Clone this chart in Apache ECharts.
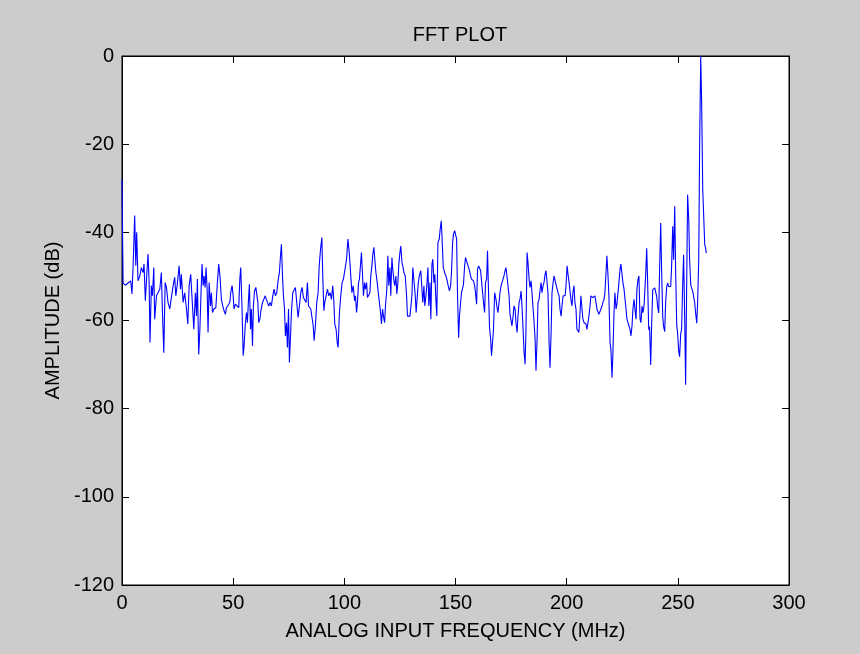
<!DOCTYPE html>
<html>
<head>
<meta charset="utf-8">
<title>FFT PLOT</title>
<script src="https://cdn.jsdelivr.net/npm/echarts@6/dist/echarts.min.js"></script>
<style>
  html, body { margin: 0; padding: 0; background: #cccccc; }
  #chart { width: 860px; height: 654px; }
</style>
</head>
<body>
<div id="chart"></div>
<script>
// Spectrum samples: frequency (MHz) and amplitude (dB)
const freqMHz = [
  0, 0.5, 1.5, 2.7, 3.9, 4.5, 5.0, 5.7, 6.2, 6.6, 7.2, 8.0, 8.7, 9.5, 9.9, 10.5, 11.1, 11.7, 12.2, 12.6,
  13.2, 13.7, 14.3, 14.7, 15.5, 16.2, 17.0, 17.7, 18.2, 18.8, 19.4, 20.0, 20.7, 21.5, 22.2, 23.0, 23.7, 24.2, 24.8, 25.7,
  26.3, 26.7, 27.5, 28.2, 29.0, 29.6, 30.2, 30.9, 31.5, 32.3,
  33.0, 33.5, 33.9, 34.5, 35.0, 35.6, 36.0, 36.5, 36.9, 37.4, 37.8, 38.3, 38.7, 39.2, 39.8, 40.2, 40.7, 41.3, 42.2, 42.9,
  43.5, 44.1, 44.7, 45.3, 45.9, 46.5, 47.0, 47.7, 48.5, 48.9, 49.5, 50.0, 50.4, 51.0, 51.8, 52.5, 53.0, 53.4, 54.0, 54.5,
  54.9, 55.5, 56.0, 56.4, 56.9, 57.3, 57.8, 58.2, 58.7, 59.1, 59.6, 60.2, 60.6, 61.1, 61.5, 62.0, 62.6, 63.2, 63.8, 64.4,
  65.0, 65.4, 66.0,
  66.6, 67.2, 67.8, 68.4, 69.0, 69.6, 70.2, 70.8, 71.3, 71.7, 72.2, 72.6, 73.1, 73.5, 74.0, 74.4, 74.9, 75.3, 75.8, 76.2,
  76.8, 77.4, 78.0, 78.6, 79.2, 79.8, 80.4, 81.0, 81.6, 82.2, 82.8, 83.4, 83.9, 84.3, 84.9, 85.5, 86.0, 86.4, 87.0, 87.6,
  88.2, 88.7, 89.3, 89.9, 90.3, 90.8, 91.2, 91.8, 92.4, 93.0, 93.6, 94.2, 94.8, 95.3, 95.7, 96.3, 96.8, 97.2, 97.8, 98.4,
  99.0, 99.6, 100.2,
  101.0, 101.6, 102.2, 102.8, 103.4, 104.0, 104.6, 105.0, 105.5, 105.9, 106.4, 106.8, 107.3, 107.7, 108.2, 108.6, 109.1, 109.5, 110.0, 110.4,
  110.9, 111.5, 111.9, 112.4, 112.8, 113.3, 113.7, 114.2, 114.6, 115.1, 115.7, 116.3, 116.7, 117.2, 117.6, 118.1, 118.5, 119.1, 119.6, 120.0,
  120.5, 120.9, 121.4, 121.8, 122.3, 122.7, 123.2, 123.6, 124.1, 124.5, 125.0, 125.4, 125.9, 126.3, 126.8, 127.4, 128.0, 128.4, 129.0, 129.5,
  129.9, 130.4, 130.8, 131.3, 131.9, 132.3, 132.8, 133.2, 133.7,
  134.4, 134.9, 135.3, 135.8, 136.2, 136.7, 137.1, 137.6, 138.0, 138.5, 138.9, 139.4, 139.8, 140.3, 140.7, 141.2, 141.6, 142.1, 142.7, 143.1,
  143.6, 144.0, 144.5, 145.1, 145.7, 146.1, 146.7, 147.3, 147.8, 148.2, 148.7, 149.1, 149.6, 150.0, 150.5, 150.9, 151.4, 151.8, 152.3, 152.7,
  153.2, 153.6, 154.1, 154.5, 155.0, 155.4, 155.9, 156.3, 156.8, 157.2, 157.7, 158.1, 158.6, 159.0, 159.5, 159.9, 160.4, 160.8, 161.3, 161.7,
  162.2, 162.6, 163.1, 163.5, 164.0, 164.4, 164.9, 165.3, 165.8, 166.2, 166.7, 167.1, 167.6,
  168.2, 168.7, 169.1, 169.6, 170.0, 170.5, 170.9, 171.4, 171.8, 172.3, 172.7, 173.2, 173.6, 174.1, 174.5, 175.0, 175.4, 175.9, 176.3, 176.8,
  177.2, 177.7, 178.1, 178.6, 179.0, 179.5, 179.9, 180.4, 180.8, 181.3, 181.7, 182.2, 182.6, 183.1, 183.5, 184.0, 184.4, 184.9, 185.3, 185.8,
  186.2, 186.7, 187.1, 187.6, 188.0, 188.5, 188.9, 189.4, 189.8, 190.3, 190.7, 191.2, 191.6, 192.1, 192.5, 193.0, 193.4, 193.9, 194.3, 194.8,
  195.2, 195.7, 196.1, 196.6, 197.0, 197.5, 197.9, 198.4, 198.8, 199.3, 199.7, 200.2, 200.6, 201.1,
  201.9, 202.4, 202.8, 203.3, 203.7, 204.2, 204.6, 205.1, 205.5, 206.0, 206.4, 206.9, 207.3, 207.8, 208.2, 208.7, 209.1, 209.6, 210.0, 210.5,
  210.9, 211.4, 211.8, 212.3, 212.7, 213.2, 213.6, 214.1, 214.5, 215.0, 215.4, 215.9, 216.3, 216.8, 217.2, 217.7, 218.1, 218.6, 219.0, 219.5,
  219.9, 220.4, 220.8, 221.3, 221.7, 222.2, 222.6, 223.1, 223.5, 224.0, 224.4, 224.9, 225.3, 225.8, 226.2, 226.7, 227.1, 227.6, 228.0, 228.5,
  228.9, 229.4, 229.8, 230.3, 230.7, 231.2, 231.6, 232.1, 232.5, 233.0, 233.4, 233.9, 234.3, 234.8,
  235.1, 235.5, 236.0, 236.4, 236.9, 237.3, 237.8, 238.2, 238.7, 239.1, 239.6, 240.0, 240.5, 240.9, 241.4, 241.8, 242.3, 242.7, 243.2, 243.6,
  244.1, 244.5, 245.0, 245.4, 245.9, 246.3, 246.8, 247.2, 247.7, 248.1, 248.6, 249.0, 249.5, 249.9, 250.4, 250.8, 251.3, 251.7, 252.2, 252.6,
  253.1, 253.5, 254.0, 254.4, 254.9, 255.3, 255.8, 256.2, 256.7, 257.1, 257.6, 258.0, 258.5, 258.9, 259.4, 259.8, 260.3, 260.7, 261.2, 261.6,
  262.1, 262.5, 262.8
];

const amplitudeDb = [
  -28, -51.5, -52, -51.5, -51, -54, -47.6, -36.2, -47.6, -40.0, -51.0, -49.9, -48.0, -49.1, -47.2, -55.5, -49.9, -44.9, -51.4, -65.0,
  -52.1, -54.4, -48.0, -59.7, -54.4, -54.0, -52.9, -49.1, -58.2, -67.3, -51.4, -52.5, -55.9, -57.4, -54.8, -52.1, -50.2, -54.4, -52.1, -47.6,
  -52.9, -49.5, -55.9, -53.7, -57.4, -60.8, -52.1, -49.5, -49.1, -62.0,
  -53.7, -59.0, -50.6, -67.7, -62.4, -52.9, -47.2, -52.1, -49.9, -52.5, -48.0, -52.9, -62.7, -51.4, -56.7, -53.7, -58.2, -57.4, -57.1, -51.4,
  -47.2, -50.2, -55.2, -56.7, -57.8, -58.6, -57.1, -56.7, -55.9, -53.7, -52.1, -54.4, -57.4, -56.3, -56.7, -57.1, -50.6, -48.0, -57.4, -68.0,
  -65.8, -60.5, -58.2, -60.5, -55.2, -51.8, -62.0, -57.4, -65.8, -56.7, -53.3, -52.5, -52.1, -55.9, -60.5, -59.7, -57.4, -55.9, -55.2, -54.4,
  -54.0, -55.9, -56.7,
  -55.9, -56.7, -54.4, -52.9, -54.4, -53.7, -51.0, -49.1, -45.3, -42.7, -49.9, -54.4, -57.4, -63.5, -60.5, -66.1, -57.4, -69.5, -63.5, -58.2,
  -53.7, -53.3, -52.5, -52.1, -59.3, -56.7, -53.7, -52.5, -54.8, -54.4, -55.9, -51.4, -56.7, -57.1, -57.4, -57.8, -61.2, -64.6, -61.2, -55.9,
  -53.7, -47.6, -43.8, -41.2, -49.9, -57.8, -55.9, -54.4, -52.9, -54.4, -53.7, -55.2, -52.1, -55.9, -60.8, -62.0, -65.0, -66.1, -58.2, -54.4,
  -51.4, -50.6, -51.0,
  -46.1, -41.5, -44.6, -49.1, -53.7, -52.1, -55.5, -54.4, -58.2, -55.9, -51.4, -50.6, -47.2, -44.6, -49.9, -54.4, -51.4, -52.9, -51.4, -54.8,
  -54.4, -53.7, -49.9, -47.6, -45.0, -43.4, -46.1, -49.1, -50.6, -52.9, -52.9, -58.2, -60.8, -57.4, -59.0, -60.5, -56.7, -52.9, -45.3, -52.1,
  -48.0, -54.4, -45.7, -48.4, -51.0, -52.1, -49.9, -54.0, -51.4, -47.2, -44.6, -43.1, -46.8, -47.6, -49.1, -49.9, -54.4, -59.0, -59.0, -59.0,
  -59.0, -54.4, -48.0, -47.6, -54.4, -58.2, -58.2, -51.8, -49.9,
  -48.7, -52.9, -55.9, -52.1, -56.7, -54.4, -52.1, -48.0, -56.7, -51.4, -59.7, -47.2, -46.1, -51.4, -49.5, -55.5, -59.0, -42.3, -41.5, -39.3,
  -37.4, -41.9, -48.0, -49.1, -49.9, -50.6, -52.1, -53.3, -52.1, -49.1, -42.3, -40.4, -39.6, -40.0, -41.5, -54.0, -63.9, -59.0, -55.9, -53.7,
  -53.3, -51.8, -47.6, -45.7, -46.1, -47.2, -47.6, -48.7, -49.9, -50.6, -51.0, -51.0, -52.1, -53.7, -56.3, -48.4, -47.6, -47.2, -48.7, -51.0,
  -53.7, -55.9, -58.2, -51.4, -50.6, -44.2, -54.4, -61.6, -64.2, -68.0, -68.0, -62.0, -53.7,
  -55.2, -57.1, -58.2, -55.9, -53.7, -52.1, -51.4, -51.0, -49.9, -48.7, -48.0, -50.2, -52.1, -54.4, -58.6, -59.0, -61.2, -59.0, -56.7, -57.4,
  -60.5, -62.7, -59.0, -55.9, -55.2, -53.3, -56.7, -62.0, -66.9, -69.9, -62.0, -44.6, -46.8, -50.6, -52.5, -51.0, -53.7, -57.4, -60.1, -64.2,
  -71.4, -64.2, -55.9, -55.2, -53.3, -51.4, -53.7, -52.1, -51.4, -49.5, -48.7, -49.1, -53.7, -65.0, -70.7, -62.7, -53.7, -51.4, -49.9, -49.5,
  -51.8, -52.1, -53.7, -54.4, -57.4, -59.0, -56.7, -54.4, -54.4, -54.4, -52.1, -47.6, -49.5, -51.4,
  -55.2, -56.7, -53.7, -52.1, -55.9, -57.4, -62.0, -62.4, -62.7, -58.2, -54.4, -57.4, -59.7, -60.5, -60.1, -60.8, -62.0, -60.5, -59.0, -56.7,
  -54.4, -54.8, -54.8, -54.4, -54.4, -55.9, -57.4, -57.8, -58.6, -58.2, -57.4, -56.7, -55.9, -55.2, -53.7, -49.1, -45.3, -49.9, -54.4, -65.0,
  -66.5, -73.0, -67.3, -58.2, -53.7, -57.4, -56.3, -56.7, -51.4, -48.4, -47.2, -49.5, -51.4, -52.9, -53.3, -57.4, -59.7, -60.1, -61.2, -62.0,
  -63.5, -61.2, -57.4, -55.2, -57.4, -59.7, -52.9, -50.6, -49.9, -59.7, -60.5, -56.7, -58.2, -56.7,
  -53.8, -50.0, -43.6, -50.8, -62.1, -61.4, -70.1, -61.4, -53.0, -52.6, -52.6, -53.0, -54.5, -56.8, -58.3, -48.5, -37.9, -48.5, -59.1, -61.4,
  -62.5, -56.0, -52.3, -51.5, -52.3, -52.6, -52.3, -47.7, -38.6, -46.2, -34.1, -48.5, -61.0, -62.9, -67.0, -68.2, -62.9, -62.1, -51.5, -45.1,
  -59.8, -74.6, -50.8, -31.5, -37.1, -46.2, -51.9, -52.6, -53.4, -53.8, -56.0, -58.3, -60.6, -56.0, -46.2, -20.5, 0.0, -10.3, -30.3, -30.7,
  -42.8, -43.6, -44.7
];

// Axis ranges and tick steps
const xRange = [0, 300];
const xStep = 50;
const yRange = [-120, 0];
const yStep = 20;

const titleText = 'FFT PLOT';
const xName = 'ANALOG INPUT FREQUENCY (MHz)';
const yName = 'AMPLITUDE (dB)';

const points = freqMHz.map((f, i) => [f, amplitudeDb[i]]);

const font = 'Liberation Sans, Arial, sans-serif';
const textColor = '#000';
const fontSize = 20;

const axisLine = { show: true, onZero: false, lineStyle: { color: '#000', width: 1 } };
const tickIn = { show: true, inside: true, length: 7, lineStyle: { color: '#000', width: 1 } };

const chart = echarts.init(document.getElementById('chart'), null, { renderer: 'canvas' });

chart.setOption({
  animation: false,
  backgroundColor: '#cccccc',
  title: {
    text: titleText,
    left: 455,
    textAlign: 'center',
    top: 20,
    textStyle: { fontFamily: font, fontSize: fontSize, fontWeight: 'normal', color: textColor }
  },
  grid: {
    left: 122, right: 71, top: 56, bottom: 69,
    show: true, backgroundColor: '#ffffff', borderColor: '#000', borderWidth: 1
  },
  xAxis: [
    {
      type: 'value', position: 'bottom',
      min: xRange[0], max: xRange[1], interval: xStep,
      name: xName, nameLocation: 'middle', nameGap: 36,
      nameTextStyle: { fontFamily: font, fontSize: fontSize, color: textColor },
      axisLine: axisLine, axisTick: tickIn,
      axisLabel: { fontFamily: font, fontSize: fontSize, color: textColor, margin: 8 },
      splitLine: { show: false }
    },
    {
      type: 'value', position: 'top',
      min: xRange[0], max: xRange[1], interval: xStep,
      axisLine: axisLine, axisTick: tickIn,
      axisLabel: { show: false }, splitLine: { show: false }
    }
  ],
  yAxis: [
    {
      type: 'value', position: 'left',
      min: yRange[0], max: yRange[1], interval: yStep,
      name: yName, nameLocation: 'middle', nameGap: 54, nameRotate: 90,
      nameTextStyle: { fontFamily: font, fontSize: fontSize, color: textColor },
      axisLine: axisLine, axisTick: tickIn,
      axisLabel: { fontFamily: font, fontSize: fontSize, color: textColor, margin: 8 },
      splitLine: { show: false }
    },
    {
      type: 'value', position: 'right',
      min: yRange[0], max: yRange[1], interval: yStep,
      axisLine: axisLine, axisTick: tickIn,
      axisLabel: { show: false }, splitLine: { show: false }
    }
  ],
  series: [
    {
      type: 'line',
      xAxisIndex: 0,
      yAxisIndex: 0,
      data: points,
      showSymbol: false,
      symbol: 'none',
      lineStyle: { color: '#0000ff', width: 1.1 },
      silent: true
    }
  ]
});
</script>
</body>
</html>
